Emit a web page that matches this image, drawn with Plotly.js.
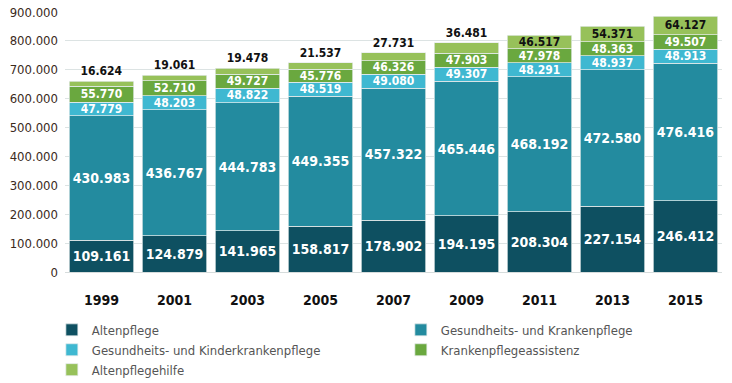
<!DOCTYPE html>
<html>
<head>
<meta charset="utf-8">
<script src="https://cdn.plot.ly/plotly-3.0.1.min.js"></script>
<style>html,body{margin:0;padding:0;background:#fff;}#chart{width:732px;height:383px;} .main-svg text{font-stretch:condensed;}</style>
</head>
<body>
<div id="chart"></div>
<script>
const years = ['1999','2001','2003','2005','2007','2009','2011','2013','2015'];
const altenpflege = [109161,124879,141965,158817,178902,194195,208304,227154,246412];
const gesundKranken = [430983,436767,444783,449355,457322,465446,468192,472580,476416];
const gesundKinder = [47779,48203,48822,48519,49080,49307,48291,48937,48913];
const krankenAssistenz = [55770,52710,49727,45776,46326,47903,47978,48363,49507];
const altenpflegehilfe = [16624,19061,19478,21537,27731,36481,46517,54371,64127];
const seriesNames = ['Altenpflege','Gesundheits- und Krankenpflege','Gesundheits- und Kinderkrankenpflege','Krankenpflegeassistenz','Altenpflegehilfe'];
const yTicks = [0,100000,200000,300000,400000,500000,600000,700000,800000,900000];

const FONT = '"Liberation Sans Narrow", "DejaVu Sans Condensed", "DejaVu Sans", sans-serif';
const colors = ['#0e5061','#238b9f','#3fb8d1','#6aa83f','#97c15a'];
const values = [altenpflege, gesundKranken, gesundKinder, krankenAssistenz, altenpflegehilfe];
const sizes = [14,14,12,12,12];

const traces = values.map((v,i)=>{
  const top = i===4;
  return {
    type:'bar', x:years, y:v, name:seriesNames[i],
    marker:{color:colors[i], line:{color:'rgba(230,236,236,0.9)', width:0.8}},
    texttemplate:'%{y:,.0f}',
    textposition: top ? years.map((y,j)=> j<6 ? 'outside':'inside') : 'inside',
    insidetextanchor:'middle',
    textangle:0,
    constraintext:'none',
    textfont:{family:FONT, size:sizes[i], color: top ? '#111' : '#fff', weight:'bold'},
    outsidetextfont:{family:FONT, size:sizes[i], color:'#111', weight:'bold'},
    cliponaxis:false,
    hoverinfo:'skip'
  };
});

const layout = {
  width:732, height:383,
  margin:{l:65, r:10, t:12, b:111, autoexpand:false},
  barmode:'stack', bargap:0.12,
  separators:',.',
  paper_bgcolor:'#fff', plot_bgcolor:'#fff',
  xaxis:{type:'category', tickfont:{family:FONT, size:14, color:'#111', weight:'bold'}, ticks:'', ticklabelstandoff:18, showgrid:false, showline:false},
  yaxis:{range:[0,900000], tickvals:yTicks, tickformat:',.0f', tickfont:{family:FONT, size:13, color:'#3b2a1c'}, gridcolor:'#dce3e3', gridwidth:1, zeroline:true, zerolinecolor:'#d6dcdc', zerolinewidth:1, showline:false, ticks:'', ticklabelstandoff:6},
  showlegend:true,
  legend:{orientation:'h', x:-0.02, xanchor:'left', y:-0.165, yanchor:'top', traceorder:'normal', entrywidth:304, entrywidthmode:'pixels', font:{family:FONT, size:13, color:'#555'}, itemclick:false},
  font:{family:FONT}
};
Plotly.newPlot('chart', traces, layout, {displayModeBar:false, staticPlot:true});
</script>
</body>
</html>
